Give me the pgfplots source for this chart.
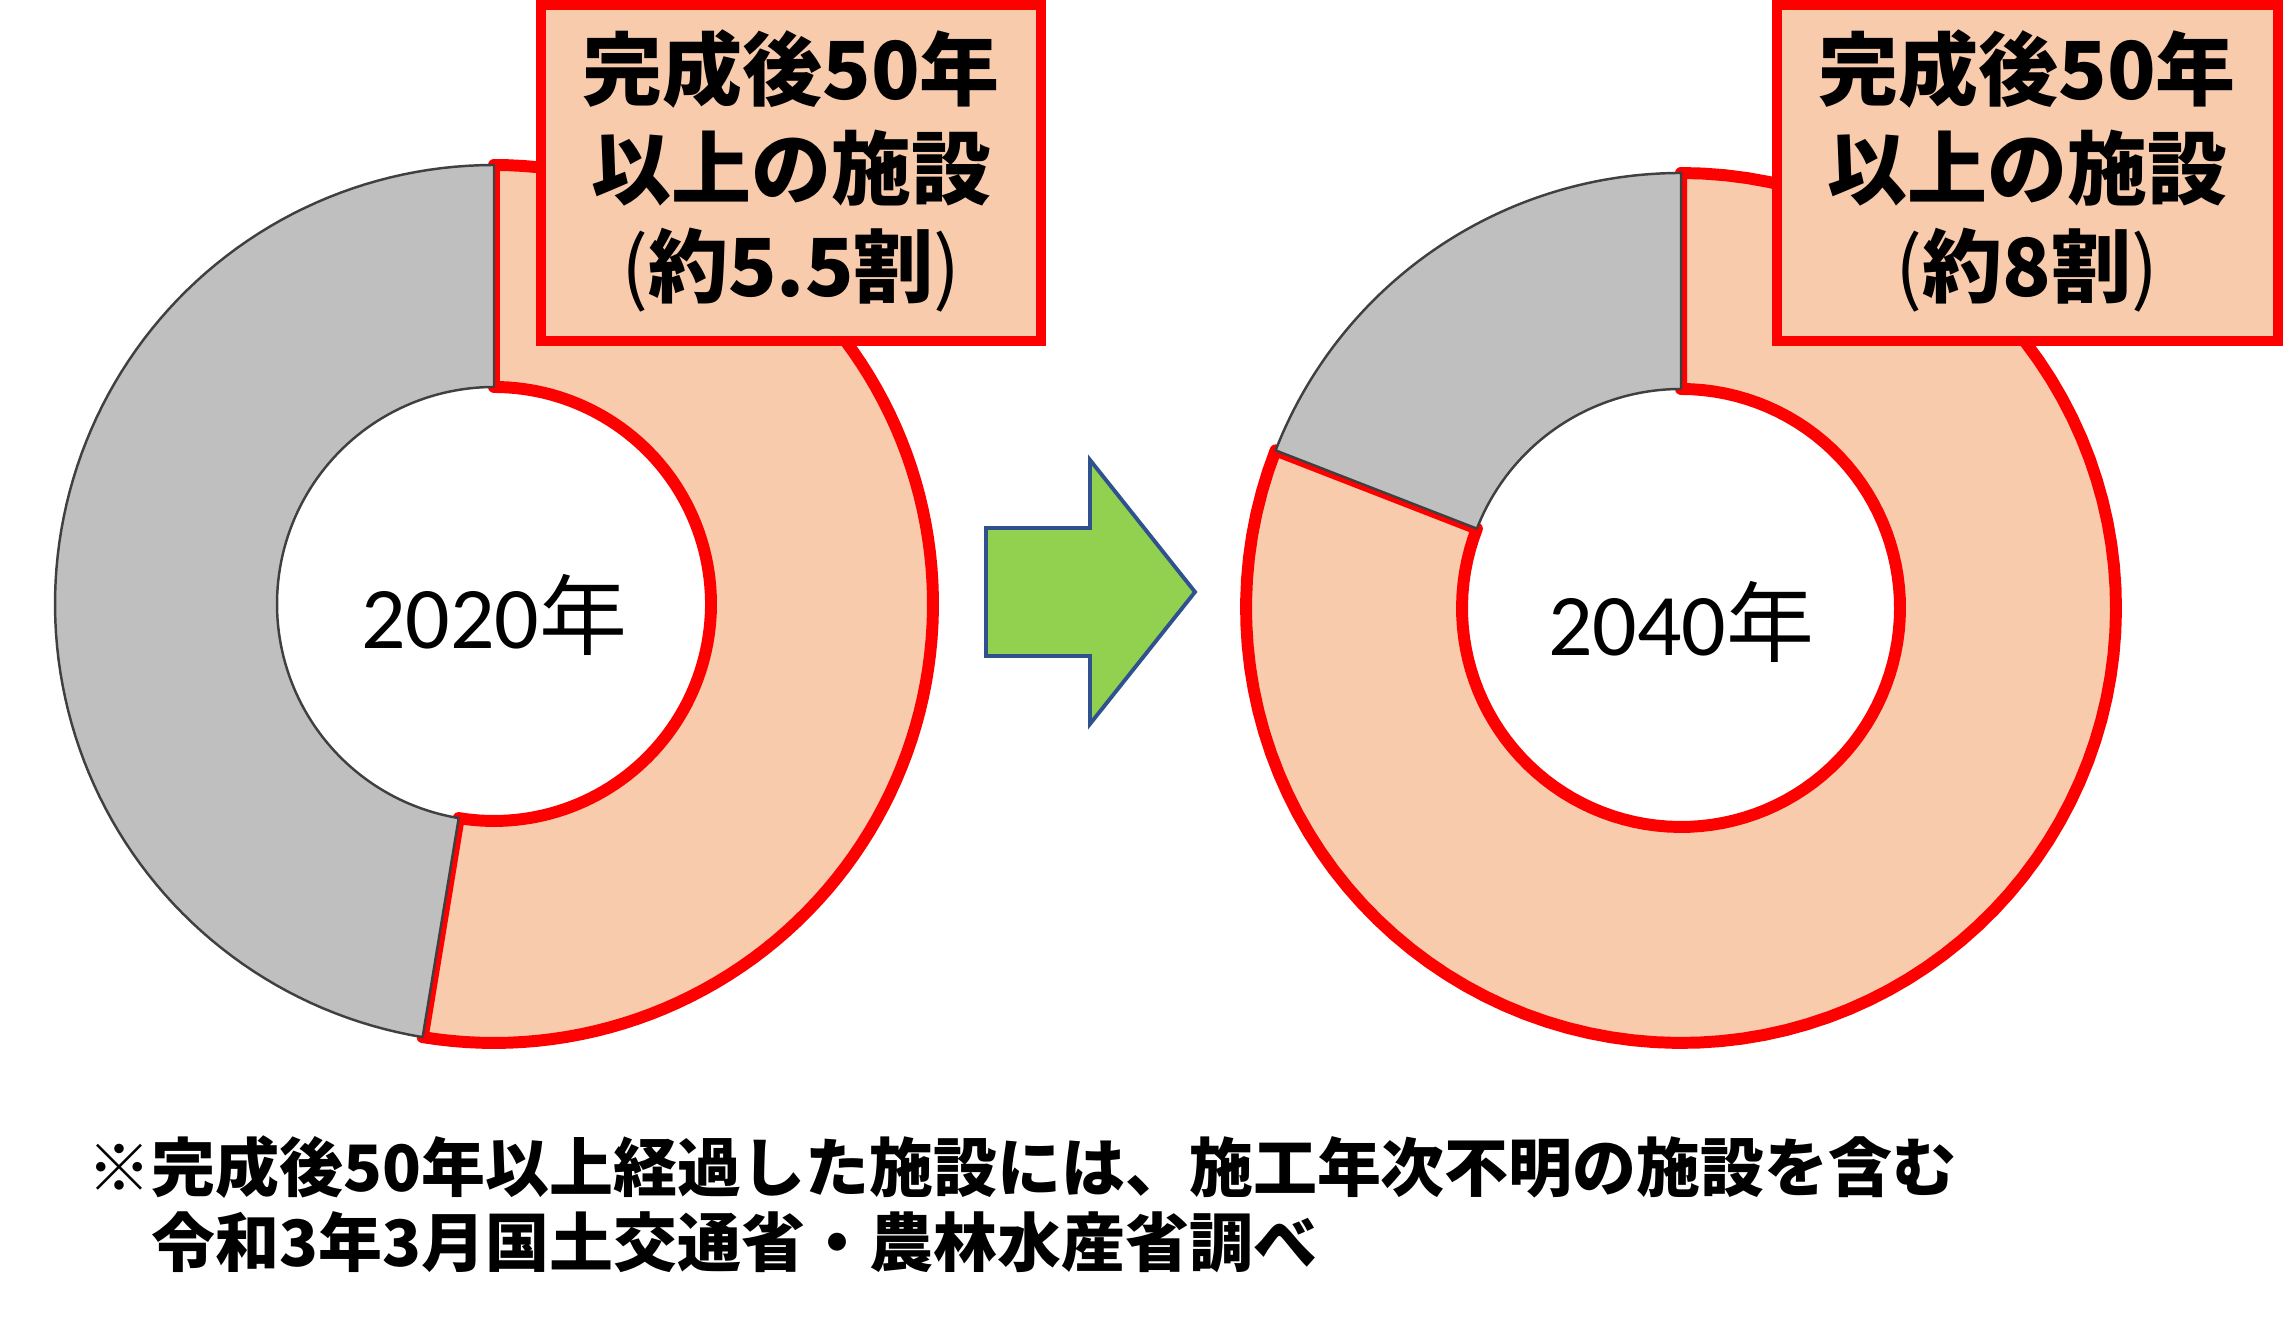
\documentclass[border=0pt]{standalone}
\usepackage{pgfplots}
\pgfplotsset{compat=1.18}
\usepackage{pgfplotstable}
\usepackage{fontspec}
\setmainfont{Noto Sans CJK JP}
\newfontfamily\carlito{Carlito}
\definecolor{salmon}{HTML}{F8CBAD}
\definecolor{greyseg}{HTML}{BFBFBF}
\definecolor{greyline}{HTML}{404040}
\definecolor{pptred}{HTML}{FF0000}
\definecolor{arrowgreen}{HTML}{92D050}
\definecolor{arrowblue}{HTML}{2F528F}

% share of facilities 50+ years after completion (percent)
\pgfplotstableread{
year share
2020 52.6
2040 80.9
}\donutdata

\begin{document}%
\begin{tikzpicture}
\pgfplotstablegetelem{0}{share}\of\donutdata \edef\shareA{\pgfplotsretval}
\pgfplotstablegetelem{1}{share}\of\donutdata \edef\shareB{\pgfplotsretval}
\pgfmathsetmacro\endA{90-3.6*\shareA}
\pgfmathsetmacro\endB{90-3.6*\shareB}
\begin{axis}[
  width=22.9cm, height=13.26cm, scale only axis,
  xmin=0, xmax=2290, ymin=0, ymax=1326,
  hide axis, clip=false,
  declare function={
    rr(\s,\Ro,\Ri)=(\s<1.15)*\Ro+(\s>=1.15)*\Ri;
    aa(\s,\a,\b)=(\s<1.15)*(\a+(\b-\a)*min(\s,1))+(\s>=1.15)*(\b+(\a-\b)*min(max(\s-1.3,0),1));
  },
  sector/.style={variable=\t, domain=0:2.5, samples=251, line join=round},
]
\coordinate (ll) at (rel axis cs:0,0);
\coordinate (ur) at (rel axis cs:1,1);

% ---- 2020 donut ----
\addplot[sector, fill=salmon, draw=pptred, line width=3.4pt]
  ({494+rr(t,439,217)*cos(aa(t,90,\endA))},{722+rr(t,439,217)*sin(aa(t,90,\endA))}) -- cycle;
\addplot[sector, fill=greyseg, draw=greyline, line width=0.7pt]
  ({494+rr(t,439,217)*cos(aa(t,\endA,-270))},{722+rr(t,439,217)*sin(aa(t,\endA,-270))}) -- cycle;

% ---- 2040 donut ----
\addplot[sector, fill=salmon, draw=pptred, line width=3.4pt]
  ({1681+rr(t,435,219)*cos(aa(t,90,\endB))},{718+rr(t,435,219)*sin(aa(t,90,\endB))}) -- cycle;
\addplot[sector, fill=greyseg, draw=greyline, line width=0.7pt]
  ({1681+rr(t,435,219)*cos(aa(t,\endB,-270))},{718+rr(t,435,219)*sin(aa(t,\endB,-270))}) -- cycle;

% centre labels
\node[inner sep=0pt, font=\fontsize{25}{30}\selectfont] at (axis cs:494,711) {{\carlito 2020}年};
\node[inner sep=0pt, font=\fontsize{25}{30}\selectfont] at (axis cs:1681,704) {{\carlito 2040}年};

% arrow
\draw[fill=arrowgreen, draw=arrowblue, line width=1.1pt]
  (axis cs:986,798) -- (axis cs:1090,798) -- (axis cs:1090,866) -- (axis cs:1195,734)
  -- (axis cs:1090,602) -- (axis cs:1090,670) -- (axis cs:986,670) -- cycle;

% call-out boxes
\draw[fill=salmon, draw=pptred, line width=2.85pt] (axis cs:541,1321) rectangle (axis cs:1041,985);
\node[inner sep=0pt, align=center, font=\fontsize{22.76}{27.9}\selectfont\bfseries]
  at (axis cs:791,1155) {完成後50年\\以上の施設\\{\mdseries(}約5.5割{\mdseries)}};
\draw[fill=salmon, draw=pptred, line width=2.85pt] (axis cs:1777,1321) rectangle (axis cs:2278,985);
\node[inner sep=0pt, align=center, font=\fontsize{22.76}{27.9}\selectfont\bfseries]
  at (axis cs:2027,1155) {完成後50年\\以上の施設\\{\mdseries(}約8割{\mdseries)}};

% footnote
\node[inner sep=0pt, anchor=base west, font=\fontsize{18.2}{21}\selectfont\bfseries]
  at (axis cs:87,134) {※完成後50年以上経過した施設には、施工年次不明の施設を含む};
\node[inner sep=0pt, anchor=base west, font=\fontsize{18.2}{21}\selectfont\bfseries]
  at (axis cs:87,59) {　令和3年3月国土交通省・農林水産省調べ};
\end{axis}
\pgfresetboundingbox
\path[use as bounding box] (ll) rectangle (ur);
\end{tikzpicture}%
\end{document}
